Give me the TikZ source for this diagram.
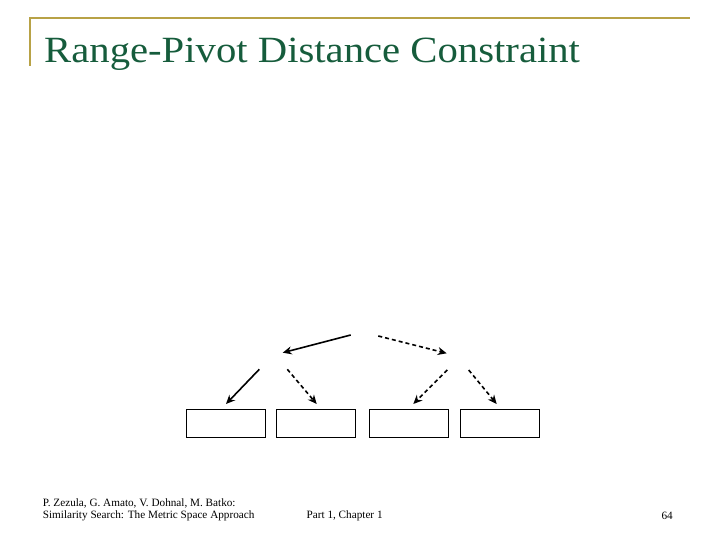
\documentclass[tikz,border=0pt]{standalone}
\usepackage{fontspec}
\setmainfont{Liberation Serif}
\usetikzlibrary{arrows.meta}
\definecolor{titlegreen}{RGB}{22,92,60}
\definecolor{rulegold}{RGB}{184,162,70}
\tikzset{
  leaf/.style={draw, line width=0.8pt, minimum width=79pt, minimum height=28pt, inner sep=0pt},
  conn/.style={line width=1.6pt, -{Stealth[length=9pt,width=8pt]}},
  dconn/.style={conn, dash pattern=on 4pt off 3pt},
  foot/.style={font=\fontsize{11.2}{13}\selectfont, anchor=west, inner sep=0pt}
}
\begin{document}
\begin{tikzpicture}[x=1pt,y=-1pt]
\useasboundingbox (0,0) rectangle (720,540);
% header rules
\draw[rulegold, line width=2pt] (30,66) -- (30,18.3) -- (690,18.3);
\node[anchor=base west, inner sep=0pt, text=titlegreen, font=\fontsize{37}{40}\selectfont] (title) at (44,62.3) {\scalebox{1.1}[1]{Range-Pivot Distance Constraint}};
% boxes
\node[leaf] (b1) at (226.2,423.3) {};
\node[leaf] (b2) at (316.2,423.3) {};
\node[leaf] (b3) at (409,423.3) {};
\node[leaf] (b4) at (500,423.3) {};
% free ends
\coordinate (r1) at (350.7,335);
\coordinate (r2) at (378.3,336);
\coordinate (lt) at (282.7,352.7);
\coordinate (rt) at (446.7,353.3);
\coordinate (l1) at (259.3,369.3);
\coordinate (l2) at (287.3,369.3);
\coordinate (m1) at (447.3,370);
\coordinate (m2) at (468.7,370);
\coordinate (t1) at (226,404);
\coordinate (t2) at (316.7,404);
\coordinate (t3) at (413.3,404);
\coordinate (t4) at (496.7,404);
\draw[conn] (r1) -- (lt);
\draw[dconn] (r2) -- (rt);
\draw[conn] (l1) -- (t1);
\draw[dconn] (l2) -- (t2);
\draw[dconn] (m1) -- (t3);
\draw[dconn] (m2) -- (t4);
% footer
\node[foot] (f1) at (42.7,503.3) {P. Zezula, G. Amato, V. Dohnal, M. Batko:};
\node[foot] (f2) at (42.7,516) {Similarity Search: The Metric Space Approach};
\node[foot] (f3) at (306.5,516) {Part 1, Chapter 1};
\node[foot, anchor=east] (f4) at (673,516) {64};
\end{tikzpicture}
\end{document}
